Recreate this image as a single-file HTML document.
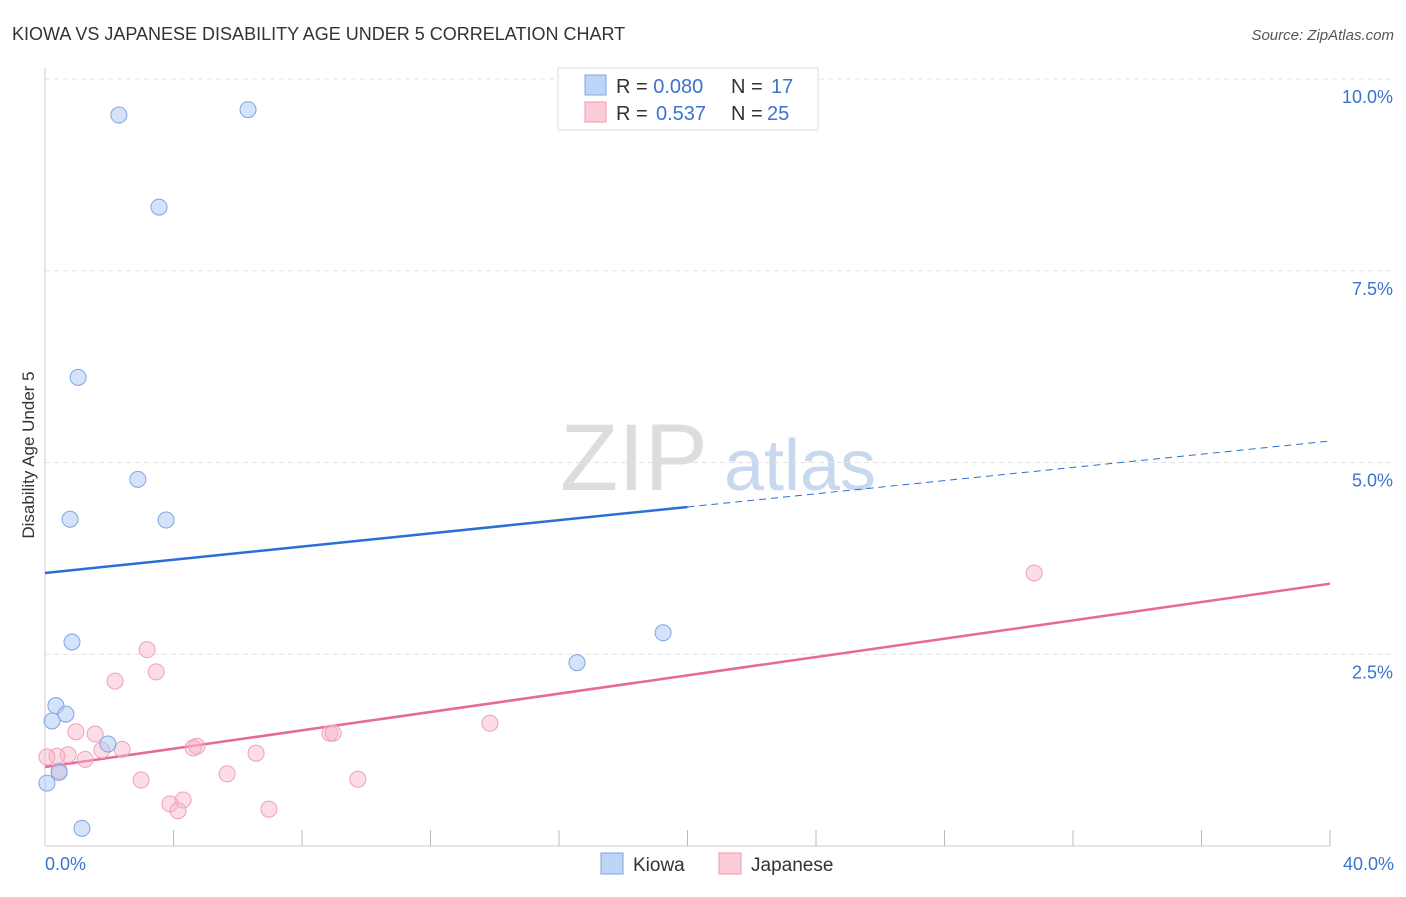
<!DOCTYPE html>
<html><head><meta charset="utf-8"><style>
body{margin:0;background:#fff;font-family:"Liberation Sans",sans-serif}
svg text{font-family:"Liberation Sans",sans-serif}
</style></head><body>
<svg id="chart" width="1406" height="892">
<text x="12" y="40" font-size="18" fill="#333">KIOWA VS JAPANESE DISABILITY AGE UNDER 5 CORRELATION CHART</text>
<text x="1394" y="40" font-size="15" fill="#555" font-style="italic" text-anchor="end">Source: ZipAtlas.com</text>
<text x="634" y="490" font-size="95" fill="#ddd" font-family="Liberation Serif" text-anchor="middle">ZIP</text>
<text x="800" y="490" font-size="72" fill="#c8d8ee" text-anchor="middle">atlas</text>
<g id="grid"></g>
<line x1="45" y1="68" x2="45" y2="846" stroke="#ccc"/>
<line x1="45" y1="846" x2="1330" y2="846" stroke="#ccc"/>
<g id="ticks"></g>
<text transform="translate(34,455) rotate(-90)" font-size="17" fill="#333" text-anchor="middle">Disability Age Under 5</text>
<text x="45" y="870" font-size="18" fill="#3b73d1">0.0%</text>
<text x="1394" y="870" font-size="18" fill="#3b73d1" text-anchor="end">40.0%</text>
<g id="lines"></g>
<g id="points"></g>
<g>
<rect x="558" y="68" width="260" height="62" fill="#fff" stroke="#ddd"/>
<rect x="585" y="75" width="21" height="20" fill="#bcd4f5" stroke="#7ea6e0"/>
<rect x="585" y="102" width="21" height="20" fill="#fcccd9" stroke="#f09ab3"/>
<text x="616" y="93" font-size="20" fill="#333">R = <tspan fill="#3b73d1">0.080</tspan><tspan x="731">N = </tspan><tspan x="771" fill="#3b73d1">17</tspan></text>
<text x="616" y="120" font-size="20" fill="#333">R = <tspan x="656" fill="#3b73d1">0.537</tspan><tspan x="731">N = </tspan><tspan x="767" fill="#3b73d1">25</tspan></text>
</g>
<g>
<rect x="601" y="853" width="22" height="21" fill="#bcd4f5" stroke="#7ea6e0"/>
<text x="633" y="871" font-size="19" fill="#333">Kiowa</text>
<rect x="719" y="853" width="22" height="21" fill="#fcccd9" stroke="#f09ab3"/>
<text x="751" y="871" font-size="19" fill="#333">Japanese</text>
</g>
</svg>
<script>
const yTicks=[2.5,5.0,7.5,10.0];
const yTickLabels=["2.5%","5.0%","7.5%","10.0%"];
const xTicks=[4,8,12,16,20,24,28,32,36,40];
const kiowaX=[2.30,6.32,3.55,1.03,2.89,0.78,3.77,0.84,19.24,16.56,0.34,0.22,0.65,1.96,0.44,0.06,1.15];
const kiowaY=[9.53,9.60,8.33,6.11,4.78,4.26,4.25,2.66,2.78,2.39,1.83,1.63,1.72,1.33,0.96,0.82,0.23];
const japX=[30.79,13.85,3.18,3.46,2.18,0.96,1.56,2.40,1.77,0.72,0.37,0.06,1.25,0.44,4.73,4.61,6.57,8.87,8.97,2.99,5.67,9.74,4.30,3.89,4.14,6.97];
const japY=[3.56,1.60,2.56,2.27,2.15,1.49,1.46,1.26,1.25,1.19,1.17,1.16,1.13,0.98,1.30,1.28,1.21,1.47,1.47,0.86,0.94,0.87,0.60,0.55,0.46,0.48];
const kiowaTrend=[3.56,5.28];
const japTrend=[1.03,3.42];
const NS="http://www.w3.org/2000/svg";
const xs=v=>45+v*32.125, ys=v=>846-v*76.7;
function mk(t,a,p){const e=document.createElementNS(NS,t);for(const k in a)e.setAttribute(k,a[k]);document.getElementById(p).appendChild(e);return e;}
yTicks.forEach((v,i)=>{
 const l=mk('line',{x1:45,x2:1394,y1:ys(v),y2:ys(v),stroke:'#e2e2e2','stroke-dasharray':'5,4'},'grid');
 
 
 const t=mk('text',{x:1393,y:ys(v)+24,'font-size':18,fill:'#3b73d1','text-anchor':'end'},'ticks');t.textContent=yTickLabels[i];
 
 
});
xTicks.forEach(v=>{
 const l=mk('line',{x1:xs(v),x2:xs(v),y1:830,y2:846,stroke:'#bbb'},'ticks');
 
 
});
function pts(X,Y,fill,stroke,name){X.forEach((x,i)=>{
 const c=mk('circle',{cx:xs(x),cy:ys(Y[i]),r:8,fill:fill,stroke:stroke,'stroke-width':1},'points');
 
 
});}
pts(japX,japY,'rgba(248,180,200,0.45)','#f0a0b8','japanese-point');
pts(kiowaX,kiowaY,'rgba(170,200,245,0.5)','#7ea6e0','kiowa-point');
const bm=kiowaTrend[0]+(kiowaTrend[1]-kiowaTrend[0])*0.5;
let l=mk('line',{x1:xs(0),y1:ys(kiowaTrend[0]),x2:xs(20),y2:ys(bm),stroke:'#2a6fd6','stroke-width':2.5},'lines');


l=mk('line',{x1:xs(20),y1:ys(bm),x2:xs(40),y2:ys(kiowaTrend[1]),stroke:'#2a6fd6','stroke-width':1,'stroke-dasharray':'7,5'},'lines');


l=mk('line',{x1:xs(0),y1:ys(japTrend[0]),x2:xs(40),y2:ys(japTrend[1]),stroke:'#e8689a','stroke-width':2.5},'lines');


</script>
</body></html>
